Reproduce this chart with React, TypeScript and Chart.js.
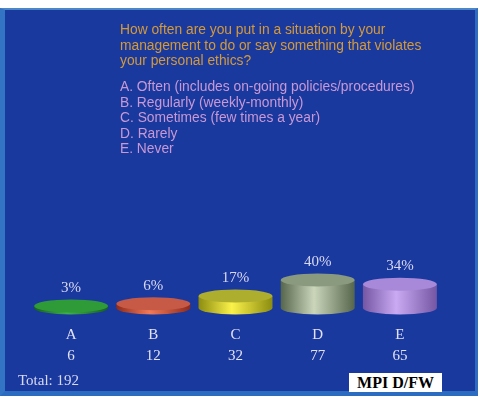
import React, { useEffect, useRef } from "react";
import { Chart, registerables } from "chart.js";

Chart.register(...registerables);

const categories = ["A", "B", "C", "D", "E"];
const counts = [6, 12, 32, 77, 65];
const percents = [3, 6, 17, 40, 34];
const totalLabel = "Total: 192";
const questionLines = [
  "How often are you put in a situation by your",
  "management to do or say something that violates",
  "your personal ethics?",
];
const answerLines = [
  "A. Often (includes on-going policies/procedures)",
  "B. Regularly (weekly-monthly)",
  "C. Sometimes (few times a year)",
  "D. Rarely",
  "E. Never",
];
const sideColors = [
  ["#17601f", "#3fb04a", "#17601f"],
  ["#8e2a1c", "#f27a58", "#8e2a1c"],
  ["#8c8c10", "#fbf24a", "#8c8c10"],
  ["#56664c", "#cbd6bb", "#56664c"],
  ["#7456a4", "#caaaf2", "#7456a4"],
];
const topColors = ["#2e9a38", "#c65a46", "#aeae2e", "#8a9a7e", "#a888d8"];

const cylinderPlugin = {
  id: "cylinders",
  afterDatasetsDraw(chart: any) {
    const ctx = chart.ctx;
    const meta = chart.getDatasetMeta(0);
    meta.data.forEach((bar: any, i: number) => {
      const { x, y, base, width } = bar.getProps(["x", "y", "base", "width"], true);
      const rx = width / 2;
      const ry = 6.5;
      ctx.save();
      const g = ctx.createLinearGradient(x - rx, 0, x + rx, 0);
      g.addColorStop(0, sideColors[i][0]);
      g.addColorStop(0.45, sideColors[i][1]);
      g.addColorStop(1, sideColors[i][2]);
      ctx.beginPath();
      ctx.moveTo(x - rx, y);
      ctx.lineTo(x - rx, base);
      ctx.ellipse(x, base, rx, ry, 0, Math.PI, 0, true);
      ctx.lineTo(x + rx, y);
      ctx.closePath();
      ctx.fillStyle = g;
      ctx.fill();
      ctx.beginPath();
      ctx.ellipse(x, y, rx, ry, 0, 0, Math.PI * 2);
      ctx.fillStyle = topColors[i];
      ctx.fill();
      ctx.fillStyle = "#d8d8f2";
      ctx.font = '15px "Liberation Serif"';
      ctx.textAlign = "center";
      ctx.textBaseline = "bottom";
      ctx.fillText(percents[i] + "%", x, y - ry - 4);
      ctx.restore();
    });
  },
};

export default function App() {
  const ref = useRef<HTMLCanvasElement>(null);
  useEffect(() => {
    if (!ref.current) return;
    const chart = new Chart(ref.current, {
      type: "bar",
      data: {
        labels: categories,
        datasets: [
          {
            data: percents,
            backgroundColor: "rgba(0,0,0,0)",
            borderWidth: 0,
            barPercentage: 0.9,
            categoryPercentage: 1,
          },
        ],
      },
      options: {
        animation: false,
        responsive: false,
        maintainAspectRatio: false,
        layout: { padding: { top: 238, left: 30, right: 43, bottom: 20 } },
        plugins: { legend: { display: false }, tooltip: { enabled: false }, title: { display: false } },
        scales: {
          y: { display: false, min: 0, max: 100 },
          x: {
            grid: { display: false },
            border: { display: false },
            ticks: {
              padding: 9,
              color: "#e2e2f4",
              font: { family: '"Liberation Serif"', size: 15, lineHeight: 1.4 },
              callback: (_v: any, i: number) => [categories[i], String(counts[i])],
            },
          },
        },
      },
      plugins: [cylinderPlugin],
    });
    return () => chart.destroy();
  }, []);

  return (
    <div style={{ position: "fixed", left: 0, top: 0, width: 484, height: 396, background: "#ffffff", overflow: "hidden" }}>
      <div
        style={{
          position: "absolute",
          left: 0,
          top: 8,
          width: 478,
          height: 388,
          background: "#1a399e",
          boxSizing: "border-box",
          borderLeft: "5px solid #3474c4",
          borderBottom: "5px solid #2c6cc0",
          borderTop: "2px solid #4a86c8",
          borderRight: "3px solid #2f6cc0",
        }}
      />
      <canvas ref={ref} width={484} height={396} style={{ position: "absolute", left: 0, top: 0 }} />
      <div
        style={{
          position: "absolute",
          left: 120,
          top: 22,
          fontFamily: '"Liberation Sans", Arial, sans-serif',
          fontSize: 13.8,
          lineHeight: "15.5px",
          color: "#d49a3a",
          whiteSpace: "pre",
        }}
      >
        {questionLines.map((l, i) => (
          <div key={i}>{l}</div>
        ))}
      </div>
      <div
        style={{
          position: "absolute",
          left: 120,
          top: 79,
          fontFamily: '"Liberation Sans", Arial, sans-serif',
          fontSize: 13.8,
          lineHeight: "15.5px",
          color: "#c898d4",
          whiteSpace: "pre",
        }}
      >
        {answerLines.map((l, i) => (
          <div key={i}>{l}</div>
        ))}
      </div>
      <div
        style={{
          position: "absolute",
          left: 18,
          top: 370,
          fontFamily: '"Liberation Serif", serif',
          fontSize: 15,
          lineHeight: "20px",
          color: "#d8d8f0",
          whiteSpace: "pre",
        }}
      >
        {totalLabel}
      </div>
      <div
        style={{
          position: "absolute",
          left: 349,
          top: 373,
          width: 93,
          height: 19,
          background: "#ffffff",
          color: "#000000",
          fontFamily: '"Liberation Serif", serif',
          fontWeight: "bold",
          fontSize: 16,
          lineHeight: "19px",
          textAlign: "center",
        }}
      >
        MPI D/FW
      </div>
    </div>
  );
}
